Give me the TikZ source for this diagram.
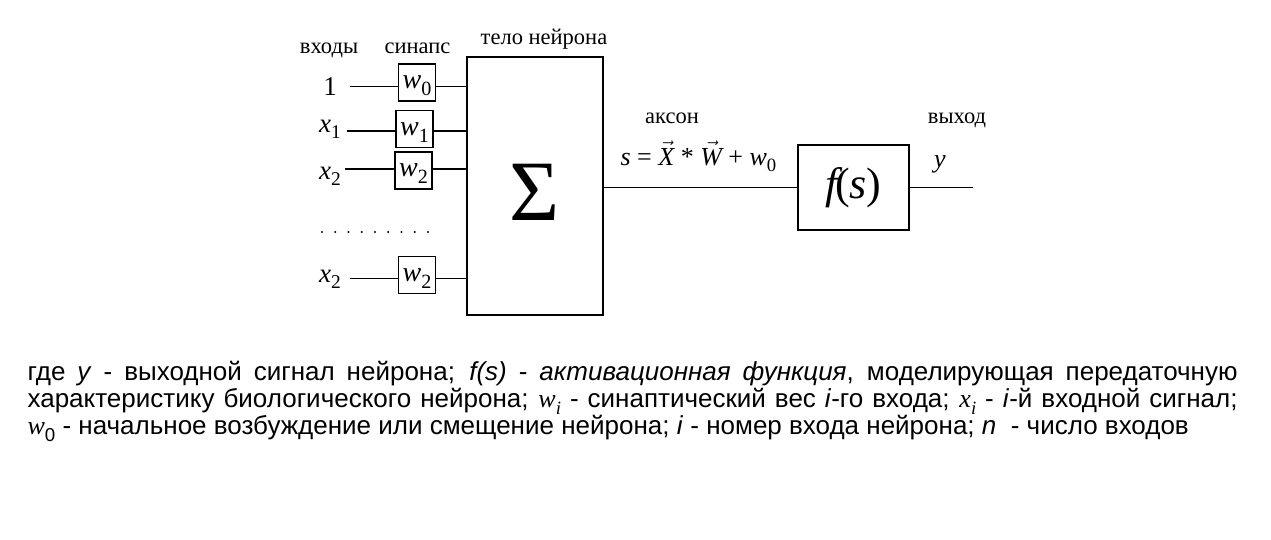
\documentclass[tikz,border=0pt]{standalone}
\usepackage{fontspec}
\setmainfont{Liberation Serif}
\newfontfamily\arial{Liberation Sans}
\newfontfamily\tms{Liberation Serif}
\newcommand\vsub[1]{\raisebox{-0.25em}{\scalebox{0.72}{#1}}}
\newcommand\vecx[1]{\ensuremath{\vec{\hbox{\itshape #1}}}}
\newcommand\mi[1]{{\tms\itshape #1}}
\begin{document}
\begin{tikzpicture}[x=1pt,y=-1pt,line width=1.2pt,
  sbox/.style={draw, minimum width=37pt, minimum height=37pt, inner sep=0pt, text height=16pt, text depth=4pt, font=\fontsize{28}{28}\selectfont},
  lbl/.style={font=\fontsize{22.5}{22.5}\selectfont, inner sep=0pt, anchor=base},
  inp/.style={font=\fontsize{27}{27}\selectfont, inner sep=0pt, anchor=base},
  bodybox/.style={draw, minimum width=136pt, minimum height=258pt, inner sep=0pt},
  fbox/.style={draw, minimum width=111pt, minimum height=85pt, inner sep=0pt, font=\fontsize{44}{44}\selectfont},
  txt/.style={anchor=base west, inner sep=0pt, font=\arial\fontsize{26}{26}\selectfont}]
\useasboundingbox (0,0) rectangle (1271,539);

% headings
\node[lbl] (hin) at (329,53) {входы};
\node[lbl] (hsyn) at (417.5,53) {синапс};
\node[lbl] (hbody) at (544,44) {тело нейрона};
\node[lbl] (hax) at (672,123) {аксон};
\node[lbl] (hout) at (957,123) {выход};

% body
\node[bodybox] (body) at (535,186) {};
\node[inner sep=0pt] (sig) at (535,192) {\fontsize{86}{86}\selectfont Σ};

% inputs
\node[inp] (in0) at (330,95) {1};
\node[inp] (in1) at (330,132) {\mi{x}\vsub{1}};
\node[inp] (in2) at (330,179) {\mi{x}\vsub{2}};
\node[inp] (inn) at (330,282) {\mi{x}\vsub{2}};

\node[sbox] (s0) at (417,82.5) {\mi{w}\vsub{0}};
\node[sbox] (s1) at (414.5,129) {\mi{w}\vsub{1}};
\node[sbox] (s2) at (413.5,170.5) {\mi{w}\vsub{2}};
\node[sbox] (sn) at (417,275) {\mi{w}\vsub{2}};

\coordinate (c0) at (350,86.5);
\coordinate (c1) at (347,131);
\coordinate (c2) at (345,169);
\coordinate (cn) at (350,278.5);

\draw (c0) -- (c0 -| s0.west);
\draw (c1) -- (c1 -| s1.west);
\draw (c2) -- (c2 -| s2.west);
\draw (cn) -- (cn -| sn.west);
\draw (c0 -| s0.east) -- (c0 -| body.west);
\draw (c1 -| s1.east) -- (c1 -| body.west);
\draw (c2 -| s2.east) -- (c2 -| body.west);
\draw (cn -| sn.east) -- (cn -| body.west);

% dots
\foreach \i in {0,...,8} \fill (322+13.25*\i,232) circle (1.2pt);

% axon and activation
\node[fbox] (f) at (853.5,187.5) {\mi{f}\kern-0.06em(\mi{s})};
\node[inner sep=0pt, anchor=base west, font=\fontsize{26}{26}\selectfont] (form) at (620,165) {\mi{s} = \vecx{X} * \vecx{W} + \mi{w}\vsub{0}};
\draw (body.east |- f.west) -- (f.west);
\coordinate (yend) at (973,187.5);
\draw (f.east) -- (yend);
\node[inner sep=0pt, anchor=base, font=\fontsize{26}{26}\selectfont] (y) at (940,167) {\mi{y}};

% caption text
\node[txt] (t1) at (27,380.5) {\makebox[1210pt][s]{где \textit{y} - выходной сигнал нейрона; \textit{f(s)} - \textit{активационная функция}, моделирующая передаточную}};
\node[txt] (t2) at (27,407.5) {\makebox[1210pt][s]{характеристику биологического нейрона; \mi{w}\vsub{\mi{i}} - синаптический вес \textit{i}-го входа; \mi{x}\vsub{\mi{i}} - \textit{i}-й входной сигнал;}};
\node[txt] (t3) at (27,434.5) {\mi{w}\vsub{0} - начальное возбуждение или смещение нейрона; \textit{i} - номер входа нейрона; \textit{n}\ \ - число входов};
\end{tikzpicture}
\end{document}
